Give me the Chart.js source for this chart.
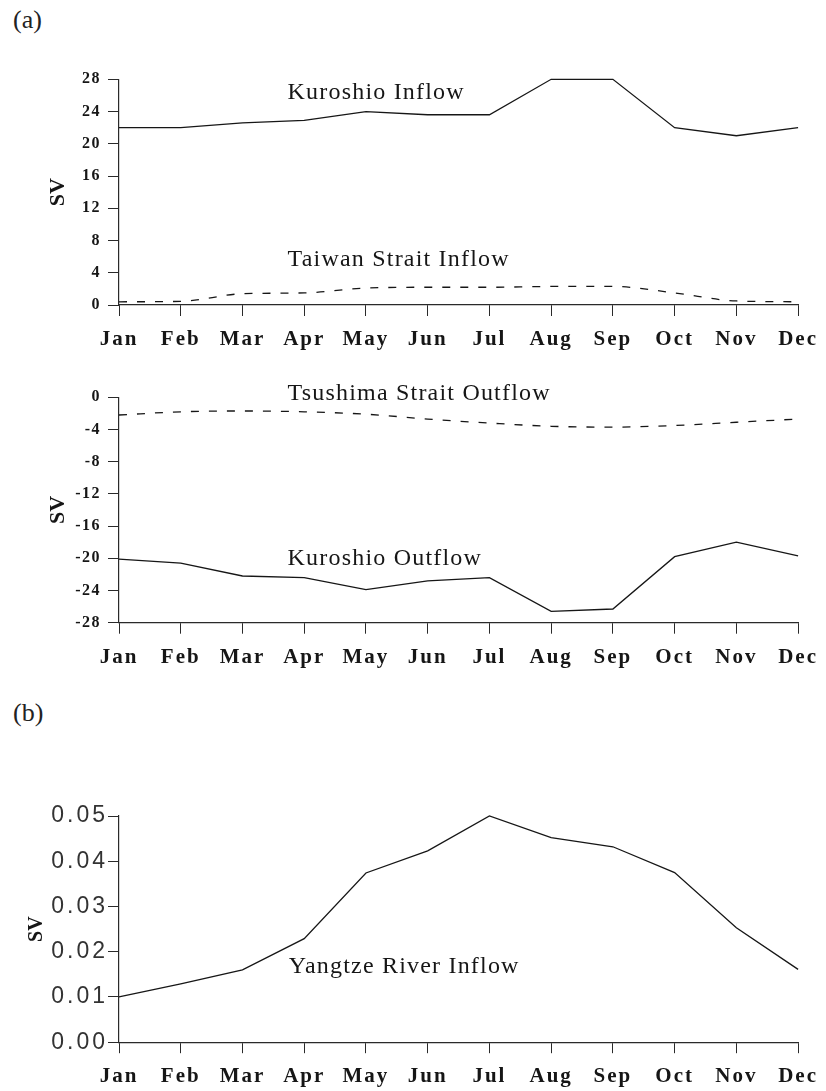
<!DOCTYPE html>
<html><head><meta charset="utf-8">
<script src="https://cdn.jsdelivr.net/npm/chart.js@4.4.0/dist/chart.umd.min.js"></script>
<style>
html,body{margin:0;padding:0;background:#fff;}
body{width:826px;height:1091px;position:relative;overflow:hidden;}
.panel{position:absolute;left:0;width:826px;}
.tag{position:absolute;left:13px;font-family:"Liberation Serif",serif;font-size:26px;color:#222;line-height:1;}
</style></head><body>
<div class="tag" style="top:7px">(a)</div>
<div class="tag" style="top:700px">(b)</div>
<div class="panel" style="top:50px;height:310px"><canvas id="c1" width="826" height="310"></canvas></div>
<div class="panel" style="top:365px;height:320px"><canvas id="c2" width="826" height="320"></canvas></div>
<div class="panel" style="top:770px;height:321px"><canvas id="c3" width="826" height="321"></canvas></div>
<script>
// ---- data ----
const months = ['Jan','Feb','Mar','Apr','May','Jun','Jul','Aug','Sep','Oct','Nov','Dec'];
const kuroshioInflow  = [22, 22, 22.6, 22.9, 24, 23.6, 23.6, 28, 28, 22, 21, 22];
const taiwanInflow    = [0.4, 0.45, 1.4, 1.5, 2.1, 2.2, 2.2, 2.3, 2.3, 1.5, 0.5, 0.4];
const tsushimaOutflow = [-2.2, -1.8, -1.7, -1.8, -2.1, -2.7, -3.2, -3.6, -3.7, -3.5, -3.1, -2.7];
const kuroshioOutflow = [-20.1, -20.6, -22.2, -22.4, -23.9, -22.8, -22.4, -26.6, -26.3, -19.8, -18.0, -19.7];
const yangtzeInflow   = [0.010, 0.0129, 0.016, 0.0229, 0.0374, 0.0423, 0.050, 0.0452, 0.0432, 0.0375, 0.0253, 0.0161];
const yTicksTop    = ['0','4','8','12','16','20','24','28'];
const yTicksMid    = ['-28','-24','-20','-16','-12','-8','-4','0'];
const yTicksBottom = ['0.00','0.01','0.02','0.03','0.04','0.05'];

// ---- styles ----
const INK = '#161616';
const AX = '#2a2a2a';
const SERIF = '"Liberation Serif", "Times New Roman", serif';
const SANS = '"Liberation Sans", Arial, sans-serif';

const letterSpacing = {
  c1: {x: '2px', y: '1.5px'},
  c2: {x: '2px', y: '1.5px'},
  c3: {x: '2px', y: '3px'}
};
const annotations = {
  c1: [{text: 'Kuroshio Inflow', x: 2.73, y: 26.3}, {text: 'Taiwan Strait Inflow', x: 2.73, y: 5.6}],
  c2: [{text: 'Tsushima Strait Outflow', x: 2.73, y: 0.5}, {text: 'Kuroshio Outflow', x: 2.73, y: -20.0}],
  c3: [{text: 'Yangtze River Inflow', x: 2.75, y: 0.0166}]
};

const spacingPlugin = {
  id: 'spacing',
  afterLayout(chart) {
    const ls = letterSpacing[chart.canvas.id] || {};
    Object.values(chart.scales).forEach(s => {
      if (s._lsWrapped) return;
      s._lsWrapped = true;
      const orig = s.drawLabels.bind(s);
      const sp = ls[s.axis] || '0px';
      s.drawLabels = function (area) {
        const ctx = this.ctx; ctx.save(); ctx.letterSpacing = sp; orig(area); ctx.restore();
      };
    });
  }
};
const annoPlugin = {
  id: 'anno',
  afterDatasetsDraw(chart) {
    const list = annotations[chart.canvas.id] || [];
    const ctx = chart.ctx;
    ctx.save();
    ctx.font = '24px ' + SERIF;
    ctx.fillStyle = INK;
    ctx.textBaseline = 'middle';
    ctx.textAlign = 'left';
    ctx.letterSpacing = '1.2px';
    list.forEach(a => ctx.fillText(a.text, chart.scales.x.getPixelForValue(a.x), chart.scales.y.getPixelForValue(a.y)));
    ctx.restore();
  }
};

function solid(data) {
  return {data, borderColor: INK, borderWidth: 1.3, pointRadius: 0, tension: 0, fill: false, clip: false};
}
function dashed(data) {
  return {data, borderColor: INK, borderWidth: 1.3, borderDash: [8, 10], pointRadius: 0, cubicInterpolationMode: 'monotone', fill: false, clip: false};
}

function makeChart(id, datasets, y, padTop, xHeight) {
  return new Chart(document.getElementById(id), {
    type: 'line',
    data: {labels: months, datasets},
    options: {
      responsive: false, animation: false, devicePixelRatio: 1,
      layout: {padding: {left: 0, right: 27, top: padTop, bottom: 0}},
      plugins: {legend: {display: false}, tooltip: {enabled: false}},
      scales: {
        x: {
          type: 'category', offset: false,
          afterFit: s => { s.height = xHeight; },
          grid: {drawOnChartArea: false, drawTicks: true, tickLength: 11, tickColor: AX, color: AX},
          border: {display: true, color: AX, width: 1.2},
          ticks: {autoSkip: false, maxRotation: 0, padding: 11, color: INK, font: {family: SERIF, size: 21, weight: 'bold'}}
        },
        y: Object.assign({
          afterFit: s => { s.width = 119; },
          grid: {drawOnChartArea: false, drawTicks: true, tickLength: 11, tickColor: AX, color: AX},
          border: {display: true, color: AX, width: 1.2}
        }, y)
      }
    },
    plugins: [spacingPlugin, annoPlugin]
  });
}

makeChart('c1', [solid(kuroshioInflow), dashed(taiwanInflow)], {
  min: 0, max: 28,
  ticks: {stepSize: 4, padding: 7, color: INK, font: {family: SERIF, size: 16, weight: 'bold'},
          callback: v => yTicksTop[Math.round(v / 4)]},
  title: {display: true, text: 'SV', color: INK, font: {family: SERIF, size: 22, weight: 'bold'}, padding: {top: 45, bottom: 0}}
}, 29.3, 55);

makeChart('c2', [dashed(tsushimaOutflow), solid(kuroshioOutflow)], {
  min: -28, max: 0,
  ticks: {stepSize: 4, padding: 7, color: INK, font: {family: SERIF, size: 16, weight: 'bold'},
          callback: v => yTicksMid[Math.round((v + 28) / 4)]},
  title: {display: true, text: 'SV', color: INK, font: {family: SERIF, size: 22, weight: 'bold'}, padding: {top: 45, bottom: 0}}
}, 32.3, 62.3);

makeChart('c3', [solid(yangtzeInflow)], {
  min: 0, max: 0.05,
  ticks: {stepSize: 0.01, padding: 0, color: '#333', font: {family: SANS, size: 23},
          callback: v => yTicksBottom[Math.round(v / 0.01)]},
  title: {display: true, text: 'SV', color: INK, font: {family: SERIF, size: 20, weight: 'bold'}, padding: {top: 25, bottom: 0}}
}, 46, 48.8);
</script>
</body></html>
